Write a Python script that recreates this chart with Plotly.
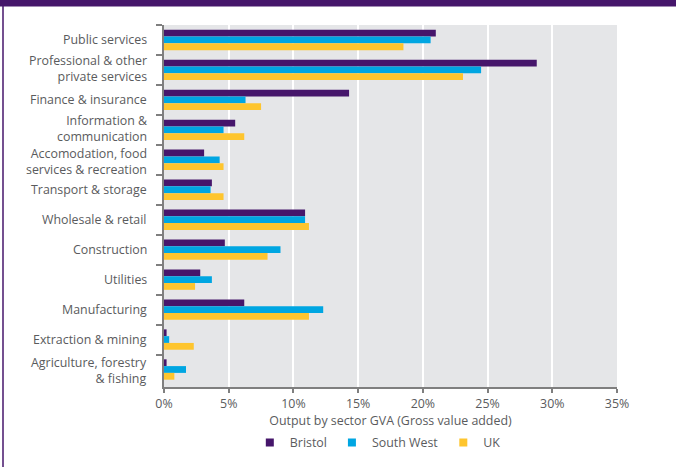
import plotly.graph_objects as go

categories = [
    "Public services",
    "Professional & other<br>private services",
    "Finance & insurance",
    "Information &<br>communication",
    "Accomodation, food<br>services & recreation",
    "Transport & storage",
    "Wholesale & retail",
    "Construction",
    "Utilities",
    "Manufacturing",
    "Extraction & mining",
    "Agriculture, forestry<br>& fishing",
]

bristol = [21.0, 28.8, 14.3, 5.5, 3.1, 3.7, 10.9, 4.7, 2.8, 6.2, 0.2, 0.2]
south_west = [20.6, 24.5, 6.3, 4.6, 4.3, 3.6, 10.9, 9.0, 3.7, 12.3, 0.4, 1.7]
uk = [18.5, 23.1, 7.5, 6.2, 4.6, 4.6, 11.2, 8.0, 2.4, 11.2, 2.3, 0.8]

series_names = ["Bristol", "South West", "UK"]
colors = ["#46166B", "#00A6E2", "#FEC52E"]
x_tickvals = [0, 5, 10, 15, 20, 25, 30, 35]
x_ticktext = ["0%", "5%", "10%", "15%", "20%", "25%", "30%", "35%"]

font_family = "'Open Sans', Lato, sans-serif"
text_color = "#5A5B5D"
label_size = 12.4

fig = go.Figure()
for name, vals, col in zip(series_names, [bristol, south_west, uk], colors):
    fig.add_trace(go.Bar(
        y=categories, x=vals, name=name, orientation="h",
        marker=dict(color=col, line=dict(width=0)),
        showlegend=False,
    ))
# legend entries (small square swatches)
for name, col in zip(series_names, colors):
    fig.add_trace(go.Scatter(
        x=[None], y=[None], name=name, mode="markers",
        marker=dict(symbol="square", size=8, color=col),
        showlegend=True,
    ))

W, H = 676, 467
l, r, t, b = 164, 59, 25, 80
pw, ph = W - l - r, H - t - b

fig.update_layout(
    width=W, height=H,
    margin=dict(l=l, r=r, t=t, b=b, autoexpand=False),
    paper_bgcolor="white",
    plot_bgcolor="#E5E6E8",
    barmode="group",
    bargap=0.32,
    bargroupgap=0,
    font=dict(family=font_family, size=label_size, color=text_color),
    legend=dict(
        orientation="h", x=0.472, xanchor="center",
        y=(387 - 443) / ph, yanchor="middle",
        font=dict(size=label_size, color=text_color), itemwidth=30,
        bgcolor="rgba(0,0,0,0)", tracegroupgap=0,
    ),
    xaxis=dict(
        range=[0, 35], tickvals=x_tickvals, ticktext=x_ticktext,
        showgrid=True, gridcolor="white", gridwidth=1.5,
        zeroline=False, showline=True, linecolor="#7F7F7F", linewidth=1.5,
        ticks="outside", ticklen=4, tickcolor="#7F7F7F", tickwidth=1.5,
        tickfont=dict(size=label_size, color=text_color),
        automargin=False,
        title=dict(text="Output by sector GVA (Gross value added)", standoff=5,
                   font=dict(size=label_size, color=text_color)),
    ),
    yaxis=dict(
        categoryorder="array", categoryarray=categories,
        autorange="reversed", showgrid=False,
        showline=True, linecolor="#7F7F7F", linewidth=1.5,
        ticks="outside", tickson="boundaries", ticklen=6,
        tickcolor="#7F7F7F", tickwidth=1.5,
        showticklabels=False,
        automargin=False,
    ),
)

# category labels as right-aligned annotations (small nudges keep
# neighbouring two-line labels apart, as in the reference)
label_nudge = {3: 1.5, 4: -2.0, 1: 1.0, 11: -1.0}
for idx, cat in enumerate(categories):
    fig.add_annotation(
        x=0, xref="paper", y=idx, yref="y",
        text=cat, showarrow=False, xanchor="right", yanchor="middle",
        align="right", xshift=-15, yshift=label_nudge.get(idx, 0),
        font=dict(size=label_size, color=text_color, family=font_family),
    )

def px(xp):
    return (xp - l) / pw
def py(yp):
    return (H - b - yp) / ph

# frame: top purple band and left purple rule
fig.add_shape(type="rect", xref="paper", yref="paper",
              x0=px(-2), x1=px(W + 2), y0=py(6.5), y1=py(-2),
              fillcolor="#46166B", line=dict(width=0), layer="above")
fig.add_shape(type="line", xref="paper", yref="paper",
              x0=px(3), x1=px(3), y0=py(6), y1=py(H + 2),
              line=dict(color="#46166B", width=1.5), layer="above")

fig.write_html(
    "out.html",
    config={"displayModeBar": False},
    post_script="document.body.style.margin='0';document.body.style.overflow='hidden';",
)
